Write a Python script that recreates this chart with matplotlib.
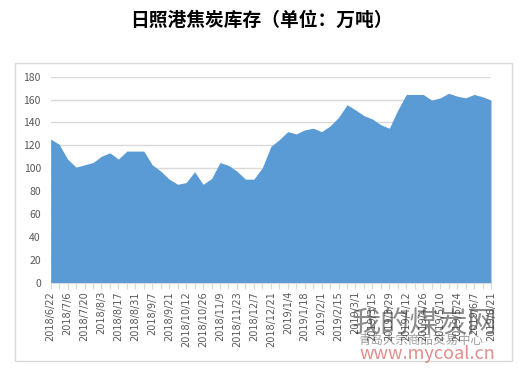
"""
    日照港焦炭库存 面积图
"""
import matplotlib.pyplot as plt
from matplotlib.patches import Rectangle

plt.rcParams['font.family'] = ['Noto Sans CJK SC', 'DejaVu Sans']

# 日期（每两个显示一个）
dates = ['2018/6/22', '2018/6/29', '2018/7/6', '2018/7/13', '2018/7/20', '2018/7/27',
         '2018/8/3', '2018/8/10', '2018/8/17', '2018/8/24', '2018/8/31', '2018/9/4',
         '2018/9/7', '2018/9/14', '2018/9/21', '2018/9/28', '2018/10/12', '2018/10/19',
         '2018/10/26', '2018/11/2', '2018/11/9', '2018/11/16', '2018/11/23', '2018/11/30',
         '2018/12/7', '2018/12/14', '2018/12/21', '2018/12/28', '2019/1/4', '2019/1/11',
         '2019/1/18', '2019/1/25', '2019/2/1', '2019/2/8', '2019/2/15', '2019/2/22',
         '2019/3/1', '2019/3/8', '2019/3/15', '2019/3/22', '2019/3/29', '2019/4/5',
         '2019/4/12', '2019/4/19', '2019/4/26', '2019/5/3', '2019/5/10', '2019/5/17',
         '2019/5/24', '2019/5/31', '2019/6/7', '2019/6/14', '2019/6/21']
# 库存（万吨）
stock = [125.5, 121, 108, 101, 103, 105, 110.5, 113.5, 108, 115, 115, 115,
         103, 97.5, 90.5, 86, 87.5, 97, 86, 91, 105, 102.5, 97.5, 90.5,
         90.5, 100.5, 119, 125, 132, 130, 133.5, 135, 132, 137, 144.5, 155.5,
         151, 146, 143, 138, 135, 151, 164.5, 164.5, 164.5, 159.5, 161.5, 165.5,
         163, 161.5, 164.5, 162.5, 159.5]

fig = plt.figure(figsize=(5.22, 3.72), dpi=100, facecolor='white')
ax = fig.add_axes([0.097, 0.240, 0.8436, 0.5538])

x = list(range(len(stock)))
ax.fill_between(x, stock, 0, color='#5b9bd5', linewidth=0, zorder=2)

ax.set_xlim(0, len(stock) - 1)
ax.set_ylim(0, 180)
ax.set_yticks(range(0, 181, 20))
ax.grid(axis='y', color='#d9d9d9', linewidth=1, zorder=0)
ax.set_axisbelow(True)

ax.set_xticks(x)
ax.set_xticklabels([d if i % 2 == 0 else '' for i, d in enumerate(dates)],
                   rotation=90, fontsize=7, color='#595959', family='DejaVu Sans')
ax.tick_params(axis='x', length=4, color='#d9d9d9', pad=2)
ax.tick_params(axis='y', length=0, labelsize=7.5, labelcolor='#595959', pad=7)

for s in ['top', 'right', 'left']:
    ax.spines[s].set_visible(False)
ax.spines['bottom'].set_color('#d9d9d9')

# 图表边框
fig.patches.append(Rectangle((15 / 522, 1 - 361 / 372), 497 / 522, 298 / 372,
                             transform=fig.transFigure, fill=False,
                             edgecolor='#d9d9d9', linewidth=1))

fig.text(0.5, 1 - 20 / 372, '日照港焦炭库存（单位：万吨）', ha='center', va='center',
         fontsize=13.5, fontweight='bold', color='black')

# 水印
fig.text(425 / 522, 1 - 325 / 372, '我的煤炭网', ha='center', va='center',
         fontsize=21, color='#404040', alpha=0.6)
fig.text(421 / 522, 1 - 340 / 372, '青岛大宗商品交易中心', ha='center', va='center',
         fontsize=9, color='#404040', alpha=0.5)
fig.text(427 / 522, 1 - 354 / 372, 'www.mycoal.cn', ha='center', va='center',
         fontsize=13, color='#d04040', alpha=0.6)

plt.savefig('out.png', dpi=100)
